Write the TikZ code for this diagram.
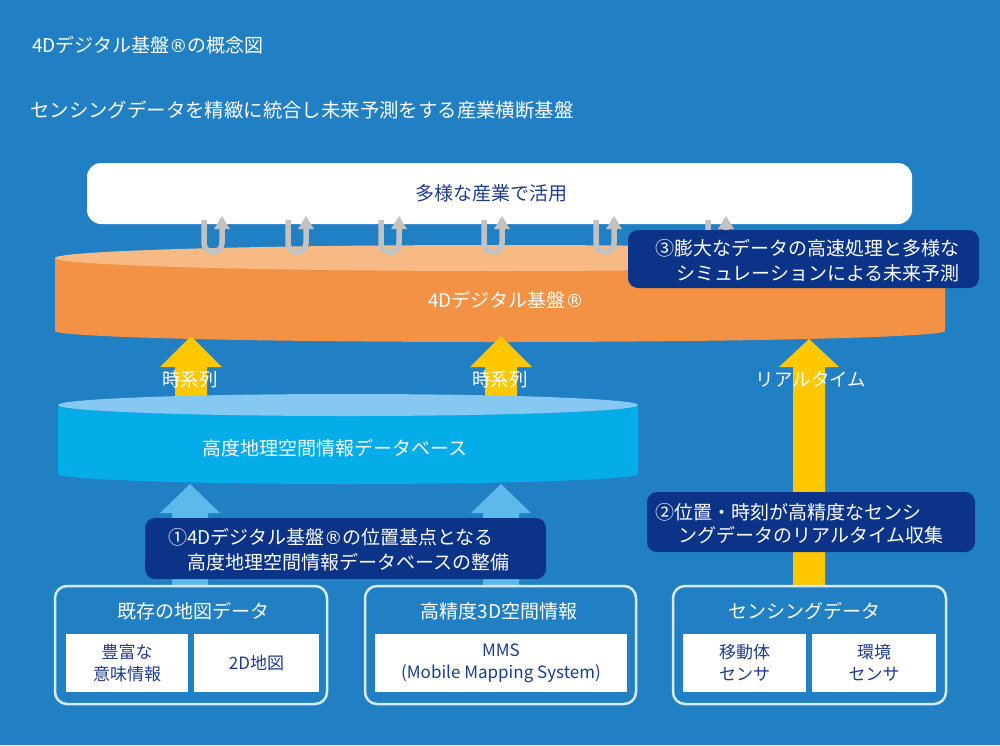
\documentclass[tikz,border=0pt]{standalone}
\usepackage{fontspec}
\setmainfont{Noto Sans CJK JP}
\newfontfamily\djvfont{DejaVu Sans}
\newcommand\regmk{{\djvfont\addfontfeature{Scale=0.95}®}}
\definecolor{bgblue}{HTML}{2180C4}
\definecolor{navy}{HTML}{0B3388}
\definecolor{orangeB}{HTML}{F39244}
\definecolor{orangeT}{HTML}{F8BA85}
\definecolor{skyB}{HTML}{04ACE8}
\definecolor{skyT}{HTML}{86C8F1}
\definecolor{arrowblue}{HTML}{5DB8EC}
\definecolor{ylw}{HTML}{FFC800}
\definecolor{ugray}{HTML}{C2C2C2}
\definecolor{txtnavy}{HTML}{1D3C8C}
\definecolor{outl}{HTML}{D6EAF8}
\newcommand\blkup[7]{\fill[#7] (#1,#2) -- (#1+#6,#3) -- (#1+#5,#3) -- (#1+#5,#4) -- (#1-#5,#4) -- (#1-#5,#3) -- (#1-#6,#3) -- cycle;}
\begin{document}
\begin{tikzpicture}[x=1pt,y=-1pt,
  lbl/.style={inner sep=0pt, text=white, font=\fontsize{19}{23}\selectfont},
  biglbl/.style={inner sep=0pt, text=white, font=\fontsize{19.4}{23}\selectfont},
  smalllbl/.style={inner sep=0pt, text=white, font=\fontsize{18.5}{22}\selectfont},
  navybox/.style={fill=navy, rounded corners=10pt, inner sep=0pt},
  whitebox/.style={fill=white, rounded corners=14pt, inner sep=0pt},
  grpbox/.style={draw=outl, line width=2.5pt, fill=bgblue, rounded corners=12pt, inner sep=0pt},
  innerbox/.style={fill=white, inner sep=0pt, text=txtnavy, align=center, font=\fontsize{17}{22}\selectfont},
]
\useasboundingbox (0,0) rectangle (1000,745);
\fill[bgblue] (0,0) rectangle (1000,745);

% headings
\node[lbl, anchor=west] (title) at (32,45) {4Dデジタル基盤\regmk の概念図};
\node[biglbl, anchor=west] (subtitle) at (30,110) {センシングデータを精緻に統合し未来予測をする産業横断基盤};

% top white box
\node[whitebox, minimum width=825pt, minimum height=61pt] (use) at (499.5,193.5) {};
\node[lbl, text=txtnavy] (usetxt) at (491,193) {多様な産業で活用};

% orange cylinder
\fill[orangeB] (55,258) -- (55,331) .. controls (55,337.1) and (254.2,342) .. (500,342)
  .. controls (745.8,342) and (945,337.1) .. (945,331) -- (945,258) -- cycle;
\fill[orangeT] (500,258) ellipse [x radius=445, y radius=13];
\node[lbl] (dtxt) at (506,300) {4Dデジタル基盤\regmk};

% gray U arrows
\foreach \c in {213,297,390,493,605,717}{
  \draw[ugray, line width=5.5pt] (\c-9,220) -- (\c-9,243) .. controls (\c-9,255) and (\c+9,255) .. (\c+9,243) -- (\c+9,228);
  \fill[ugray] (\c+9,216) -- (\c+17,229) -- (\c+1,229) -- cycle;
}

% box 3
\node[navybox, minimum width=351pt, minimum height=58pt] (b3) at (803.5,259) {};
\node[lbl, anchor=east] (b3a) at (960,248) {③膨大なデータの高速処理と多様な};
\node[lbl, anchor=east] (b3b) at (960,273) {シミュレーションによる未来予測};

% yellow arrows
\blkup{191}{336}{367}{404}{16}{31}{ylw}
\blkup{501}{336}{367}{404}{16}{31}{ylw}
\blkup{809}{339}{367}{590}{16}{30}{ylw}

% sky cylinder
\fill[skyB] (58,405) -- (58,474) .. controls (58,479.5) and (187.8,484) .. (348,484)
  .. controls (508.2,484) and (638,479.5) .. (638,474) -- (638,405) -- cycle;
\fill[skyT] (348,405) ellipse [x radius=290, y radius=11];
\node[lbl] (dbtxt) at (335,448) {高度地理空間情報データベース};

\node[smalllbl] (ts1) at (190,379) {時系列};
\node[smalllbl] (ts2) at (500,379) {時系列};
\node[smalllbl] (rt) at (811,379) {リアルタイム};

% light blue arrows
\blkup{190}{484}{513}{590}{18}{30}{arrowblue}
\blkup{501}{484}{513}{590}{18}{30}{arrowblue}

% box 1
\node[navybox, minimum width=401pt, minimum height=61pt] (b1) at (345.5,548.5) {};
\node[lbl, anchor=west] (b1a) at (168,537) {①4Dデジタル基盤\regmk の位置基点となる};
\node[lbl, anchor=west] (b1b) at (187,562) {高度地理空間情報データベースの整備};

% box 2
\node[navybox, minimum width=328pt, minimum height=60pt] (b2) at (811,522) {};
\node[lbl, anchor=west] (b2a) at (655,512) {②位置・時刻が高精度なセンシ};
\node[lbl, anchor=west] (b2b) at (678,535) {ングデータのリアルタイム収集};

% group boxes
\node[grpbox, minimum width=272pt, minimum height=118pt] (g1) at (191,645) {};
\node[grpbox, minimum width=271pt, minimum height=118pt] (g2) at (500.5,645) {};
\node[grpbox, minimum width=273pt, minimum height=118pt] (g3) at (809.5,645) {};

\node[lbl] (g1t) at (193,611) {既存の地図データ};
\node[lbl] (g2t) at (499,611) {高精度3D空間情報};
\node[lbl] (g3t) at (804,611) {センシングデータ};

\node[innerbox, minimum width=122pt, minimum height=58pt] (i1a) at (127,663) {豊富な\\意味情報};
\node[innerbox, minimum width=125pt, minimum height=58pt] (i1b) at (256.5,663) {2D地図};
\node[innerbox, minimum width=252pt, minimum height=58pt] (i2) at (501,663) {MMS\\(Mobile Mapping System)};
\node[innerbox, minimum width=123pt, minimum height=58pt] (i3a) at (744.5,663) {移動体\\センサ};
\node[innerbox, minimum width=124pt, minimum height=58pt] (i3b) at (874,663) {環境\\センサ};
\end{tikzpicture}
\end{document}
